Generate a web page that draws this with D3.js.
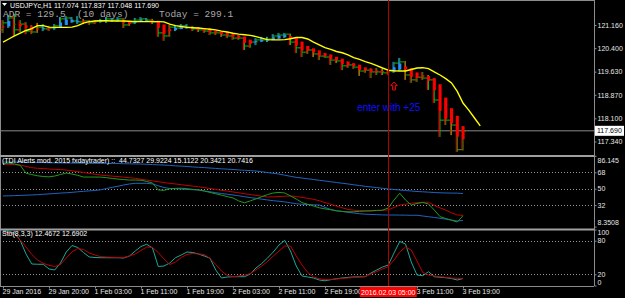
<!DOCTYPE html>
<html>
<head>
<meta charset="utf-8">
<script src="https://cdn.jsdelivr.net/npm/d3@7"></script>
<style>
  html, body { margin: 0; padding: 0; background: #000; }
  svg { display: block; }
</style>
</head>
<body>
<div id="chart"></div>
<script>
// USDJPYc H1 bars, 29 Jan 2016 12:00 .. 3 Feb 2016 19:00
const opens = [
  121.00, 121.23, 121.39, 121.00, 121.19, 120.96, 120.93, 121.09, 121.03, 121.06,
  121.13, 121.36, 121.39, 121.29, 121.26, 121.29, 121.23, 121.29, 121.29, 121.36,
  121.32, 121.36, 121.16, 121.23, 121.32, 121.36, 121.32, 121.26, 120.90, 120.80,
  121.09, 121.06, 121.13, 121.09, 121.03, 121.00, 120.96, 120.90, 120.90, 120.83,
  120.80, 120.73, 120.73, 120.47, 120.60, 120.67, 120.67, 120.70, 120.80, 120.83,
  120.86, 120.60, 120.41, 120.27, 120.34, 120.21, 120.14, 120.11, 120.01, 119.98,
  119.82, 119.85, 119.78, 119.65, 119.68, 119.62, 119.62, 119.59, 119.65, 119.91,
  119.95, 119.52, 119.36, 119.45, 119.42, 119.36, 118.70, 118.04, 118.04, 117.88,
  117.074
];
const highs = [
  121.32, 121.49, 121.52, 121.32, 121.26, 121.16, 121.23, 121.19, 121.13, 121.19,
  121.42, 121.45, 121.42, 121.45, 121.36, 121.32, 121.32, 121.36, 121.42, 121.39,
  121.42, 121.37, 121.26, 121.39, 121.42, 121.39, 121.36, 121.29, 121.13, 121.16,
  121.13, 121.19, 121.19, 121.13, 121.09, 121.03, 121.06, 120.96, 120.93, 120.93,
  120.90, 120.83, 120.75, 120.67, 120.73, 120.77, 120.77, 120.86, 120.90, 120.90,
  120.87, 120.67, 120.50, 120.44, 120.37, 120.27, 120.24, 120.18, 120.08, 120.01,
  119.91, 119.91, 119.82, 119.75, 119.75, 119.75, 119.72, 119.68, 119.95, 120.08,
  119.98, 119.68, 119.59, 119.62, 119.52, 119.42, 119.13, 118.37, 118.27, 118.04,
  117.837
];
const lows = [
  120.90, 121.06, 120.80, 120.93, 120.86, 120.86, 120.90, 120.96, 120.96, 121.00,
  121.06, 121.16, 121.23, 121.19, 121.19, 121.16, 121.19, 121.23, 121.23, 121.26,
  121.26, 121.06, 121.13, 121.19, 121.26, 121.26, 121.19, 120.77, 120.64, 120.78,
  120.96, 121.03, 121.03, 120.96, 120.93, 120.90, 120.83, 120.83, 120.77, 120.73,
  120.67, 120.67, 120.34, 120.41, 120.50, 120.60, 120.60, 120.67, 120.70, 120.73,
  120.50, 120.24, 120.11, 120.21, 120.11, 120.01, 120.08, 119.85, 119.91, 119.68,
  119.75, 119.72, 119.49, 119.59, 119.42, 119.52, 119.52, 119.52, 119.59, 119.65,
  119.36, 119.26, 119.29, 119.36, 119.03, 118.60, 117.49, 117.88, 117.55, 117.00,
  117.048
];
const closes = [
  121.23, 121.39, 121.00, 121.19, 120.96, 120.93, 121.09, 121.03, 121.06, 121.13,
  121.36, 121.39, 121.29, 121.26, 121.29, 121.23, 121.29, 121.29, 121.36, 121.32,
  121.36, 121.16, 121.23, 121.32, 121.36, 121.32, 121.26, 120.90, 120.80, 121.09,
  121.06, 121.13, 121.09, 121.03, 121.00, 120.96, 120.90, 120.90, 120.83, 120.80,
  120.73, 120.73, 120.47, 120.60, 120.67, 120.67, 120.70, 120.80, 120.83, 120.86,
  120.60, 120.41, 120.27, 120.34, 120.21, 120.14, 120.11, 120.01, 119.98, 119.82,
  119.85, 119.78, 119.65, 119.68, 119.62, 119.62, 119.59, 119.65, 119.91, 119.95,
  119.52, 119.36, 119.45, 119.42, 119.36, 118.70, 118.04, 118.04, 117.88, 117.07,
  117.690
];
// yellow moving average, drawn shifted 3 bars forward (84 points)
const maLine = [
  120.60, 120.70, 120.80, 120.89, 120.98, 121.04, 121.14, 121.14, 121.09, 121.08,
  121.08, 121.08, 121.09, 121.14, 121.22, 121.27, 121.29, 121.30, 121.30, 121.29,
  121.29, 121.29, 121.28, 121.27, 121.27, 121.27, 121.27, 121.27, 121.26, 121.19,
  121.14, 121.11, 121.08, 121.07, 121.06, 121.04, 121.02, 121.00, 120.96, 120.93,
  120.89, 120.86, 120.84, 120.82, 120.78, 120.73, 120.68, 120.67, 120.67, 120.68,
  120.71, 120.75, 120.75, 120.70, 120.60, 120.51, 120.42, 120.36, 120.29, 120.25,
  120.18, 120.09, 120.03, 119.96, 119.90, 119.83, 119.75, 119.68, 119.66, 119.65,
  119.65, 119.70, 119.75, 119.76, 119.73, 119.62, 119.52, 119.40, 119.26, 118.98,
  118.60, 118.37, 118.11, 117.85
];

// TDI pane
const tdiUpper = [
  79.3, 79.2, 79.2, 79.1, 79.0, 78.9, 78.8, 78.7, 78.5, 78.4,
  78.3, 78.2, 78.2, 78.1, 78.0, 77.9, 77.9, 77.8, 77.8, 77.7,
  77.7, 77.4, 77.3, 77.2, 77.1, 76.8, 76.5, 76.2, 76.0, 75.6,
  75.1, 74.8, 74.4, 73.9, 73.5, 73.2, 72.7, 72.3, 71.8, 71.5,
  71.1, 70.6, 70.2, 69.9, 69.4, 68.6, 67.8, 66.9, 66.1, 64.8,
  63.6, 62.5, 61.7, 60.9, 60.1, 59.2, 58.5, 57.6, 56.8, 56.0,
  55.2, 54.3, 53.5, 52.6, 51.9, 51.2, 50.4, 49.7, 49.1, 48.6,
  48.0, 47.5, 46.9, 46.6, 46.2, 45.8, 45.5, 45.3, 45.2, 45.1,
  44.73
];
const tdiLower = [
  42.0, 42.2, 42.4, 42.6, 42.9, 43.1, 43.4, 43.9, 44.3, 44.7,
  45.2, 45.5, 46.0, 46.6, 47.1, 47.6, 48.1, 48.8, 50.2, 51.5,
  52.7, 54.1, 55.2, 55.9, 55.9, 55.9, 55.2, 53.2, 51.3, 50.2,
  49.9, 49.6, 49.2, 48.9, 48.6, 47.5, 46.6, 45.6, 44.7, 43.9,
  43.1, 42.2, 41.2, 40.2, 39.4, 38.5, 37.6, 36.8, 36.2, 35.5,
  34.5, 33.5, 32.8, 32.5, 32.3, 32.1, 29.4, 27.2, 25.7, 25.0,
  24.1, 23.3, 22.5, 22.0, 21.7, 21.5, 21.2, 21.1, 21.1, 21.0,
  20.9, 20.8, 20.8, 20.0, 19.2, 18.4, 17.5, 16.5, 15.6, 14.5,
  15.11
];
const tdiSignal = [
  77.0, 76.7, 76.3, 76.0, 74.5, 73.1, 72.4, 72.1, 71.6, 71.3,
  71.0, 70.5, 69.6, 68.8, 67.8, 66.8, 65.9, 64.9, 64.4, 63.8,
  63.3, 62.6, 62.1, 61.4, 60.4, 59.5, 58.6, 57.7, 56.7, 55.9,
  55.2, 54.4, 53.6, 52.9, 52.1, 51.2, 50.2, 49.2, 48.2, 47.4,
  46.4, 45.5, 44.5, 43.6, 42.6, 41.8, 40.9, 41.1, 41.4, 41.7,
  42.0, 41.4, 40.4, 39.4, 38.3, 36.8, 34.7, 32.9, 30.9, 29.0,
  27.2, 26.4, 25.9, 25.6, 25.6, 25.9, 26.2, 26.7, 29.4, 32.0,
  33.0, 34.0, 34.6, 35.1, 35.1, 31.6, 29.0, 26.4, 23.5, 21.1,
  20.74
];
const tdiPrice = [
  77.4, 78.1, 77.2, 75.6, 67.0, 65.5, 64.2, 63.4, 63.0, 63.9,
  65.6, 67.2, 66.1, 64.7, 62.8, 62.8, 62.8, 62.7, 62.1, 61.3,
  60.6, 60.0, 59.5, 59.5, 59.3, 57.9, 56.3, 48.6, 48.2, 49.9,
  50.4, 50.5, 50.0, 49.3, 48.6, 47.5, 45.9, 44.4, 42.9, 41.3,
  39.8, 36.5, 34.5, 36.6, 38.8, 41.2, 43.5, 45.3, 45.9, 45.3,
  42.0, 38.7, 34.7, 32.9, 31.0, 29.0, 27.8, 26.9, 25.7, 25.0,
  24.6, 24.6, 25.1, 25.5, 25.7, 26.1, 26.4, 28.8, 37.6, 45.0,
  37.6, 32.1, 33.8, 34.9, 33.2, 26.6, 19.3, 17.3, 15.3, 13.4,
  20.34
];
const tdiLevels = [68, 50, 32];
const tdiTicks = [86.145, 68, 50, 32, 8.3508];

// Stochastic pane
const stoMain = [
  98.4, 97.3, 93.3, 80.4, 56.3, 38.4, 37.9, 37.9, 29.5, 27.7,
  40.2, 59.8, 71.4, 67.9, 58.9, 50.9, 50.0, 49.6, 49.6, 49.6,
  49.6, 49.1, 52.7, 61.6, 69.6, 73.6, 67.0, 33.9, 34.8, 40.2,
  49.6, 54.5, 59.8, 58.9, 56.3, 52.7, 48.6, 27.7, 13.4, 15.2,
  15.7, 15.7, 15.7, 20.5, 31.3, 39.3, 49.1, 59.8, 72.3, 80.5,
  61.6, 34.8, 17.0, 15.2, 13.4, 9.8, 8.4, 10.4, 12.0, 13.4,
  14.5, 15.2, 15.5, 15.7, 22.3, 27.7, 33.0, 36.6, 58.0, 78.6,
  74.1, 42.0, 18.8, 17.5, 24.6, 15.7, 14.8, 13.9, 12.5, 9.8,
  12.47
];
const stoSignal = [
  95.5, 93.8, 91.1, 81.3, 68.8, 55.4, 45.5, 39.6, 36.1, 33.9,
  37.5, 49.1, 59.8, 66.1, 64.3, 58.0, 54.5, 51.4, 50.9, 50.4,
  50.0, 50.0, 52.7, 56.3, 62.5, 68.8, 67.9, 58.9, 47.3, 37.5,
  42.0, 50.0, 55.4, 57.1, 56.3, 55.4, 48.2, 37.5, 25.9, 17.9,
  15.7, 17.0, 18.2, 21.4, 27.7, 34.8, 42.9, 52.7, 61.6, 70.5,
  70.5, 52.7, 36.6, 23.2, 15.2, 12.1, 10.4, 10.7, 11.6, 12.7,
  13.4, 14.3, 15.2, 16.1, 20.5, 25.0, 29.5, 33.6, 45.5, 59.8,
  68.8, 63.4, 43.8, 23.2, 18.8, 17.0, 15.7, 14.6, 13.4, 12.9,
  12.69
];
const stoLevels = [80, 20];
const stoTicks = [100, 80, 20, 0];

// axis labels
const priceTicks = [121.160, 120.400, 119.630, 118.870, 118.100, 117.340];
const timeTickBars = [0, 8, 16, 24, 32, 40, 48, 56, 64, 72, 80];
const timeLabels = ['29 Jan 2016', '29 Jan 20:00', '1 Feb 03:00', '1 Feb 11:00', '1 Feb 19:00',
  '2 Feb 03:00', '2 Feb 11:00', '2 Feb 19:00', '3 Feb 03:00', '3 Feb 11:00', '3 Feb 19:00'];

// chart objects
const markerBar = 67;
const markerLabel = '2016.02.03 05:00';
const arrowBar = 68, arrowPrice = 119.29;
const noteBar = 61.6, notePrice = 118.34, noteText = 'enter with +25';
const symbolHeader = 'USDJPYc,H1 117.074 117.837 117.048 117.690';
const adrText = 'ADR = 129.5\u00a0\u00a0(10 days)';
const todayText = 'Today = 299.1';
const tdiHeader = '(TDI Alerts mod. 2015 fxdaytrader) ::\u00a0\u00a044.7327 29.9224 15.1122 20.3421 20.7416';
const stoHeader = 'Sto(8,3,3) 12.4672 12.6902';

const config = {
  width: 625,
  height: 298,
  axisX: 594,
  barX: [3, 463],
  main: {top: 1, bottom: 154, domain: [116.930, 121.946]},
  tdi: {top: 155.8, bottom: 226.6, domain: [8.3508, 86.145]},
  sto: {top: 229.5, bottom: 285.5, domain: [0, 100]},
  timeAxisY: 286,
  markerBoxWidth: 57,
  grey: '#8c8c8c',
  axisText: '#e6e6e6',
  sans: '"Liberation Sans", Arial, sans-serif',
  mono: '"Liberation Mono", "DejaVu Sans Mono", monospace'
};

const xScale = d3.scaleLinear().domain([0, closes.length - 1]).range(config.barX);
const yMain = d3.scaleLinear().domain(config.main.domain).range([config.main.bottom, config.main.top]);
const yTdi = d3.scaleLinear().domain(config.tdi.domain).range([config.tdi.bottom, config.tdi.top]);
const ySto = d3.scaleLinear().domain(config.sto.domain).range([config.sto.bottom, config.sto.top]);

function heikenAshi() {
  const out = [];
  closes.forEach((c, i) => {
    const o = opens[i], h = highs[i], l = lows[i];
    const haClose = (o + h + l + c) / 4;
    const haOpen = i === 0 ? (o + c) / 2 : (out[i - 1].open + out[i - 1].close) / 2;
    out.push({
      i, open: haOpen, close: haClose,
      high: Math.max(h, haOpen, haClose), low: Math.min(l, haOpen, haClose),
      bull: haClose > haOpen
    });
  });
  return out;
}

function addText(parent, x, y, size, fill, str, family) {
  return parent.append('text')
    .attr('x', x).attr('y', y)
    .style('font-family', family || config.sans)
    .style('font-size', size + 'px')
    .attr('fill', fill)
    .text(str);
}

function generateSvg() {
  const svg = d3.select('#chart').append('svg')
    .attr('width', config.width)
    .attr('height', config.height)
    .style('background', '#000');
  const defs = svg.append('defs');
  [['clipMain', config.main], ['clipTdi', config.tdi], ['clipSto', config.sto]].forEach(([id, p]) => {
    defs.append('clipPath').attr('id', id).append('rect')
      .attr('x', 0).attr('y', p.top).attr('width', config.axisX).attr('height', p.bottom - p.top);
  });
  return svg;
}

function drawFrame(svg) {
  const g = svg.append('g');
  g.append('line').attr('x1', 0).attr('x2', config.axisX).attr('y1', 0.5).attr('y2', 0.5)
    .attr('stroke', config.grey);
  g.append('line').attr('x1', 0.5).attr('x2', 0.5).attr('y1', 0).attr('y2', config.timeAxisY)
    .attr('stroke', config.grey);
  // pane separators
  [config.main.bottom + 1, config.tdi.bottom + 1.9].forEach(y => {
    g.append('rect').attr('x', 0).attr('y', y).attr('width', config.axisX).attr('height', 2)
      .attr('fill', '#a0a0a0');
  });
}

function drawLevels(svg) {
  const g = svg.append('g');
  const lvl = (vals, scale) => g.selectAll(null).data(vals).enter().append('line')
    .attr('x1', 0).attr('x2', config.axisX)
    .attr('y1', d => Math.round(scale(d)) + 0.5).attr('y2', d => Math.round(scale(d)) + 0.5)
    .attr('stroke', '#9a9a9a').attr('stroke-width', 1).attr('stroke-dasharray', '1,2');
  lvl(tdiLevels, yTdi);
  lvl(stoLevels, ySto);
}

function drawBidLine(g) {
  const last = closes[closes.length - 1];
  g.append('line')
    .attr('x1', 0).attr('x2', config.axisX)
    .attr('y1', yMain(last)).attr('y2', yMain(last))
    .attr('stroke', '#8a8a8a').attr('stroke-width', 1);
}

function drawBars(g) {
  const idx = d3.range(closes.length);
  const green = '#10b010';
  g.selectAll('.barHL').data(idx).enter().append('line')
    .attr('x1', i => xScale(i)).attr('x2', i => xScale(i))
    .attr('y1', i => yMain(highs[i])).attr('y2', i => yMain(lows[i]))
    .attr('stroke', green).attr('stroke-width', 1);
  g.selectAll('.barO').data(idx).enter().append('line')
    .attr('x1', i => xScale(i) - 3).attr('x2', i => xScale(i))
    .attr('y1', i => yMain(opens[i])).attr('y2', i => yMain(opens[i]))
    .attr('stroke', green).attr('stroke-width', 1);
  g.selectAll('.barC').data(idx).enter().append('line')
    .attr('x1', i => xScale(i)).attr('x2', i => xScale(i) + 3)
    .attr('y1', i => yMain(closes[i])).attr('y2', i => yMain(closes[i]))
    .attr('stroke', green).attr('stroke-width', 1);
}

function drawHeikenAshi(g) {
  const ha = heikenAshi();
  const col = d => d.bull ? '#2a8cff' : '#ff0000';
  g.selectAll('.haWick').data(ha).enter().append('line')
    .attr('x1', d => xScale(d.i) - 1).attr('x2', d => xScale(d.i) - 1)
    .attr('y1', d => yMain(d.high)).attr('y2', d => yMain(d.low))
    .attr('stroke', col).attr('stroke-width', 1);
  g.selectAll('.haBody').data(ha).enter().append('rect')
    .attr('x', d => xScale(d.i) - 1)
    .attr('width', 2.6)
    .attr('y', d => yMain(Math.max(d.open, d.close)))
    .attr('height', d => Math.max(1, Math.abs(yMain(d.open) - yMain(d.close))))
    .attr('fill', col);
}

function drawMovingAverage(g) {
  const line = d3.line().x((d, i) => xScale(i)).y(d => yMain(d));
  g.append('path').datum(maLine)
    .attr('d', line).attr('fill', 'none')
    .attr('stroke', '#ffff00').attr('stroke-width', 1.4);
}

function drawSeries(g, values, scale, color, width) {
  const line = d3.line().x((d, i) => xScale(i)).y(d => scale(d));
  g.append('path').datum(values)
    .attr('d', line).attr('fill', 'none')
    .attr('stroke', color).attr('stroke-width', width || 1);
}

function drawAnnotations(g) {
  const ax = xScale(arrowBar), ay = yMain(arrowPrice);
  g.append('path')
    .attr('d', `M${ax},${ay} L${ax + 3.2},${ay + 3.5} L${ax + 1.4},${ay + 3.5} L${ax + 1.4},${ay + 8}` +
      ` L${ax - 1.4},${ay + 8} L${ax - 1.4},${ay + 3.5} L${ax - 3.2},${ay + 3.5} Z`)
    .attr('fill', 'none').attr('stroke', '#ff0000').attr('stroke-width', 1);
  addText(g, xScale(noteBar), yMain(notePrice), 10, '#1010ff', noteText);
}

function drawMarker(svg) {
  const mx = Math.round(xScale(markerBar)) + 0.5;
  svg.append('line')
    .attr('x1', mx).attr('x2', mx).attr('y1', 0).attr('y2', config.timeAxisY)
    .attr('stroke', '#b40000').attr('stroke-width', 1);
}

function styleAxis(g) {
  g.select('.domain').attr('stroke', config.grey);
  g.selectAll('.tick line').attr('stroke', config.grey);
  g.selectAll('.tick text').attr('fill', config.axisText)
    .style('font-size', '7px').style('font-family', config.sans);
}

function drawScales(svg) {
  const axisMain = svg.append('g').attr('transform', `translate(${config.axisX + 0.5},0)`)
    .call(d3.axisRight(yMain).tickValues(priceTicks).tickFormat(d3.format('.3f')).tickSize(2).tickSizeOuter(0));
  styleAxis(axisMain);
  axisMain.select('.domain').attr('d', `M0,0V${config.timeAxisY}`);
  axisMain.selectAll('.tick text').attr('x', 3);

  const axisTdi = svg.append('g').attr('transform', `translate(${config.axisX + 0.5},0)`)
    .call(d3.axisRight(yTdi).tickValues(tdiTicks).tickFormat(d => String(d)).tickSize(2).tickSizeOuter(0));
  styleAxis(axisTdi);
  axisTdi.select('.domain').remove();
  axisTdi.selectAll('.tick text').attr('x', 3)
    .attr('dy', (d, i) => i === 0 ? '0.95em' : (i === tdiTicks.length - 1 ? '-0.3em' : '0.32em'));

  const axisSto = svg.append('g').attr('transform', `translate(${config.axisX + 0.5},0)`)
    .call(d3.axisRight(ySto).tickValues(stoTicks).tickFormat(d => String(d)).tickSize(2).tickSizeOuter(0));
  styleAxis(axisSto);
  axisSto.select('.domain').remove();
  axisSto.selectAll('.tick text').attr('x', 3)
    .attr('dy', (d, i) => i === 0 ? '0.75em' : (i === stoTicks.length - 1 ? '-0.15em' : '0.32em'));

  // time labels covered by the crosshair time box are not shown
  const mx = xScale(markerBar);
  const hidden = b => Math.abs(xScale(b) - mx) < config.markerBoxWidth / 2;
  const axisTime = svg.append('g').attr('transform', `translate(0,${config.timeAxisY + 0.5})`)
    .call(d3.axisBottom(xScale).tickValues(timeTickBars)
      .tickFormat((d, i) => hidden(d) ? '' : timeLabels[i]).tickSize(2).tickSizeOuter(0));
  styleAxis(axisTime);
  axisTime.select('.domain').attr('d', `M0,0H${config.axisX}`);
  axisTime.selectAll('.tick text').attr('text-anchor', 'start').attr('x', -1).attr('y', 3);

  // last price box
  const last = closes[closes.length - 1];
  const ly = yMain(last);
  svg.append('rect').attr('x', config.axisX + 1).attr('y', ly - 5).attr('width', 29).attr('height', 10)
    .attr('fill', '#fff');
  addText(svg, config.axisX + 3, ly + 2.6, 7, '#000', d3.format('.3f')(last));

  // crosshair time label
  svg.append('rect').attr('x', mx - config.markerBoxWidth / 2).attr('y', config.timeAxisY + 1)
    .attr('width', config.markerBoxWidth).attr('height', 10)
    .attr('fill', '#ff0000');
  addText(svg, mx, config.timeAxisY + 8.6, 7, '#fff', markerLabel).attr('text-anchor', 'middle');
}

function drawTitles(svg) {
  svg.append('path').attr('d', 'M2,3 L7,3 L4.5,6 Z').attr('fill', '#fff');
  addText(svg, 10, 7.5, 7, '#fff', symbolHeader);
  addText(svg, 3, 16.5, 9.5, '#a8a8a8', adrText, config.mono);
  addText(svg, 159, 16.5, 9.5, '#a8a8a8', todayText, config.mono);
  addText(svg, 2, 162.6, 7, '#fff', tdiHeader);
  addText(svg, 2, 235.6, 7, '#fff', stoHeader);
}

function render() {
  const svg = generateSvg();
  drawFrame(svg);
  drawLevels(svg);

  const mainLayer = svg.append('g').attr('clip-path', 'url(#clipMain)');
  drawBidLine(mainLayer);
  drawBars(mainLayer);
  drawHeikenAshi(mainLayer);
  drawMovingAverage(mainLayer);
  drawAnnotations(mainLayer);

  const tdiLayer = svg.append('g').attr('clip-path', 'url(#clipTdi)');
  drawSeries(tdiLayer, tdiUpper, yTdi, '#1f63c0');
  drawSeries(tdiLayer, tdiLower, yTdi, '#1f63c0');
  drawSeries(tdiLayer, tdiSignal, yTdi, '#c00000');
  drawSeries(tdiLayer, tdiPrice, yTdi, '#1f9a1f');

  const stoLayer = svg.append('g').attr('clip-path', 'url(#clipSto)');
  drawSeries(stoLayer, stoMain, ySto, '#1aa89a');
  drawSeries(stoLayer, stoSignal, ySto, '#c00000');

  drawMarker(svg);
  drawScales(svg);
  drawTitles(svg);
}

render();
</script>
</body>
</html>
